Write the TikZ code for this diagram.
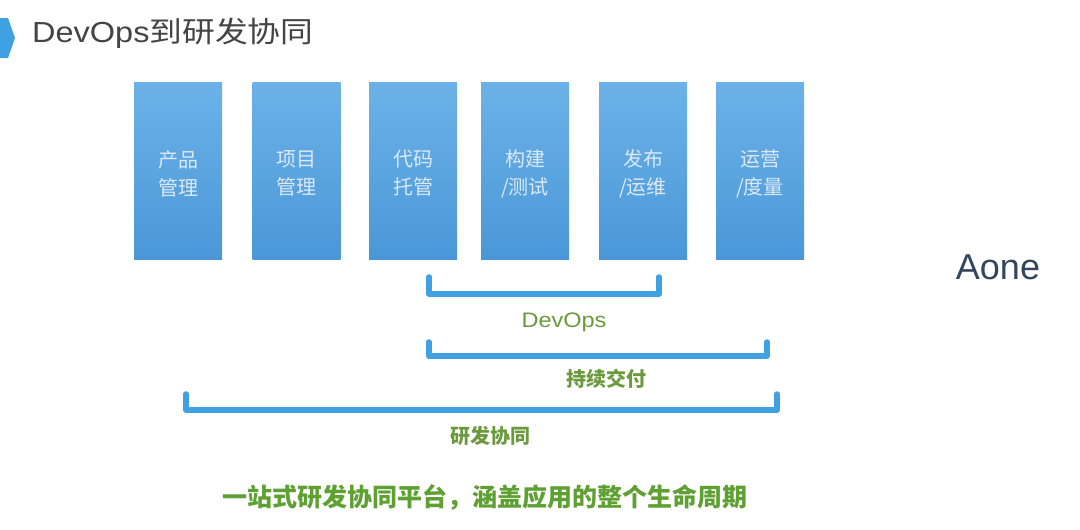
\documentclass[tikz,border=0pt]{standalone}
\usepackage{fontspec}
\setmainfont{Noto Sans CJK SC}
\newfontfamily\lat{Liberation Sans}
\newfontfamily\latw[FakeStretch=1.12]{Liberation Sans}
\newfontfamily\cjkw[FakeStretch=1.13]{Noto Sans CJK SC}
\definecolor{boxtop}{HTML}{6CB2E8}
\definecolor{boxbot}{HTML}{4A97D8}
\definecolor{brk}{HTML}{3FA0E2}
\definecolor{lbl}{HTML}{6A9A3C}
\definecolor{slogan}{HTML}{5FA033}
\definecolor{ttl}{HTML}{444444}
\definecolor{aone}{HTML}{34465E}
\definecolor{boxtxt}{HTML}{DCE9F5}
\tikzset{
  stage/.style={minimum width=88pt, minimum height=177pt, inner sep=0pt,
    top color=boxtop, bottom color=boxbot, draw=none},
  stagetxt/.style={text=boxtxt, font=\fontsize{20}{28}\selectfont, align=center, yshift=-3pt, inner sep=0pt},
  bracket/.style={draw=brk, line width=5.5pt, line cap=round, line join=round},
  lab/.style={text=lbl, font=\fontsize{20}{24}\selectfont\bfseries},
}
\begin{document}
\begin{tikzpicture}[x=1pt,y=-1pt]
\useasboundingbox (0,0) rectangle (1080,530);
\fill[white] (0,0) rectangle (1080,530);
% title marker
\fill[brk] (0,18) -- (8,18) -- (15,38) -- (8,58) -- (0,58) -- cycle;
\node[anchor=west, inner sep=0pt, text=ttl, font=\fontsize{29}{32}\selectfont] (title) at (32,33) {{\latw DevOps}{\cjkw 到研发协同}};
% stages
\node[stage, label={[stagetxt]center:产品\\管理}] (s1) at (178,170.5) {};
\node[stage, label={[stagetxt]center:项目\\管理}] (s2) at (296.5,170.5) {};
\node[stage, label={[stagetxt]center:代码\\托管}] (s3) at (413,170.5) {};
\node[stage, label={[stagetxt]center:构建\\/测试}] (s4) at (525,170.5) {};
\node[stage, label={[stagetxt]center:发布\\/运维}] (s5) at (643,170.5) {};
\node[stage, label={[stagetxt]center:运营\\/度量}] (s6) at (760,170.5) {};
% brackets
\coordinate (d1) at (429,277); \coordinate (d2) at (659,277);
\draw[bracket] (d1) -- ++(0,17) -| (d2);
\node[text=lbl, font=\fontsize{21}{24}\selectfont\latw] (ldev) at (564,322) {DevOps};
\coordinate (c1) at (429,342); \coordinate (c2) at (767,342);
\draw[bracket] (c1) -- ++(0,14) -| (c2);
\node[lab] (lcd) at (606,379) {持续交付};
\coordinate (r1) at (186,394); \coordinate (r2) at (777,394);
\draw[bracket] (r1) -- ++(0,16) -| (r2);
\node[lab] (lrd) at (490,436) {研发协同};
% slogan
\node[text=slogan, font=\fontsize{25}{28}\selectfont\bfseries] (slog) at (485,497) {一站式研发协同平台，涵盖应用的整个生命周期};
% Aone
\node[text=aone, font=\fontsize{36}{40}\selectfont\lat] (aone) at (998,267) {Aone};
\end{tikzpicture}
\end{document}
